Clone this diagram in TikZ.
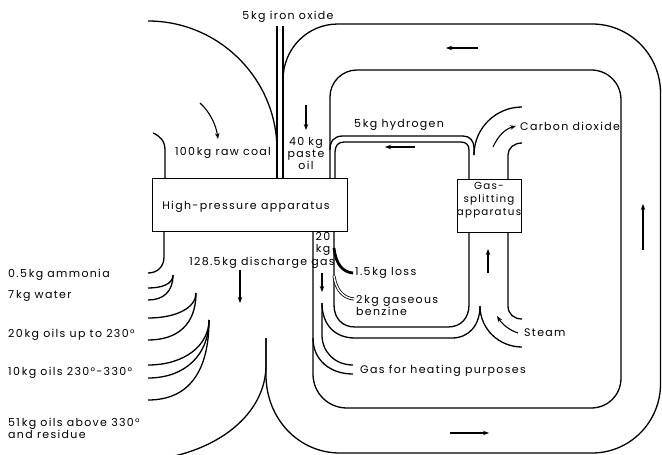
\documentclass[tikz,border=0pt]{standalone}
\usepackage{fontspec}
\setmainfont{Poppins}[LetterSpace=12]
\usetikzlibrary{arrows.meta}
\begin{document}
\begin{tikzpicture}[x=1pt,y=-1pt,
  flow/.style={line width=1.3pt},
  arr/.style={line width=1.1pt,-{Stealth[length=6pt,width=4.5pt]}},
  lbl/.style={inner sep=0pt,font=\fontsize{11}{12}\selectfont},
  boxst/.style={draw,line width=1.3pt,inner sep=0pt,anchor=north west}]
\useasboundingbox (0,0) rectangle (662,455);
% boxes
\node[boxst,minimum width=195pt,minimum height=53pt] (hp) at (152,178) {};
\node[boxst,minimum width=64pt,minimum height=53pt] (gs) at (457,179) {};
% iron oxide pipe
\draw[flow] (277,26) -- (277,178);
\draw[flow] (283,26) -- (283,178);
% raw coal
\draw[flow] (148,21) .. controls (219,21) and (277,79) .. (277,150);
\draw[flow] (153,133) .. controls (160,136) and (165,141) .. (165,150) -- (165,178);
% outer paste-oil loop
\draw[flow] (266,338) -- (266,375) .. controls (266,418) and (298,453) .. (340,453) -- (592,453)
  .. controls (630,453) and (660.5,422) .. (660.5,384) -- (660.5,93)
  .. controls (660.5,55) and (630,24) .. (592,24) -- (338,24)
  .. controls (307,24) and (283,49) .. (283,80);
% inner loop
\draw[flow] (330,178) -- (330,97) .. controls (330,82) and (342,70) .. (357,70) -- (591,70)
  .. controls (608,70) and (621,83) .. (621,100) -- (621,378)
  .. controls (621,395) and (608,408) .. (591,408) -- (347,408)
  .. controls (328,408) and (313,393) .. (313,374) -- (313,231);
% hydrogen pipe
\draw[flow] (330,150) .. controls (330,141) and (334,136) .. (343,136) -- (463,136)
  .. controls (470,136) and (474,141) .. (474,148) -- (474,155);
\draw[flow] (335,178) -- (335,152) .. controls (335,146) and (338,142) .. (344,142) -- (461,142)
  .. controls (466,142) and (469,145) .. (469,150) -- (469,179);
% carbon dioxide
\draw[flow] (474,155) .. controls (474,128) and (496,107) .. (522,107);
\draw[flow] (508,179) -- (508,155) .. controls (508,148) and (514,143) .. (522,143);
% discharge branches on the left
\draw[flow] (164,231) -- (164,257) .. controls (164,267) and (157,273) .. (148,273);
\draw[flow] (173,275) .. controls (173,284) and (162,288) .. (148,288);
\draw[flow] (173,275) .. controls (173,292) and (163,300) .. (148,300);
\draw[flow] (196,293) .. controls (196,308) and (176,318) .. (148,318);
\draw[flow] (196,293) .. controls (196,325) and (177,340) .. (148,340);
\draw[flow] (209,320) .. controls (209,345) and (185,365) .. (148,365);
\draw[flow] (209,320) .. controls (209,355) and (185,378) .. (148,378);
\draw[flow] (209,320) .. controls (209,370) and (190,400) .. (148,400);
\draw[flow] (266,338) -- (266,365) .. controls (266,410) and (225,447) .. (165,458);
% gas stream
\draw[flow] (334,231) -- (334,305) .. controls (334,318) and (342,327) .. (355,327) -- (448,327)
  .. controls (461,327) and (469,318) .. (469,305) -- (469,232);
\draw[flow] (322,303) .. controls (322,325) and (335,338) .. (355,338) -- (452,338)
  .. controls (469,338) and (480,325) .. (480,306);
\draw[flow] (322,303) -- (322,335) .. controls (322,352) and (335,365) .. (353,365);
\draw[flow] (313,338) .. controls (313,360) and (330,374) .. (353,374);
\draw[line width=2.8pt] (334,248) .. controls (336,265) and (343,272) .. (353,273);
\draw[double,double distance=1.4pt,line width=0.8pt] (334,276) .. controls (336,290) and (343,298) .. (354,299);
% steam
\draw[flow] (480,306) .. controls (480,329) and (499,347) .. (522,347);
\draw[flow] (508,232) -- (508,306) .. controls (508,314) and (514,319) .. (522,319);
% arrows
\draw[arr] (200,103) .. controls (210,112) and (216,125) .. (218,139);
\draw[arr] (306,105) -- (306,130);
\draw[arr] (415,147) -- (385,147);
\draw[arr] (478,48) -- (446,48);
\draw[arr] (643,250) -- (643,204);
\draw[arr] (450,433) -- (489,433);
\draw[arr] (493,147) .. controls (498,136) and (505,129) .. (516,126);
\draw[arr] (488,273) -- (488,249);
\draw[arr] (518,333) .. controls (509,330) and (502,324) .. (497,316);
\draw[arr] (240,270) -- (240,303);
\draw[arr] (322,273) -- (322,292);
% labels
\node[lbl] (tiron) at (288,17) {5\,kg iron oxide};
\node[lbl] (tcoal) at (223,153) {100\,kg raw coal};
\node[lbl,align=center] (tpaste) at (306,153) {40 kg\\paste\\oil};
\node[lbl] (thp) at (246,207) {High-pressure apparatus};
\node[lbl] (th2) at (399,125) {5\,kg hydrogen};
\node[lbl,anchor=west] (tco2) at (520,126) {Carbon dioxide};
\node[lbl,align=center,font=\fontsize{10.3}{13}\selectfont] (tgs) at (489,200) {Gas-\\splitting\\apparatus};
\node[lbl,align=center] (t20) at (323,244) {20\\kg};
\node[lbl] (tdis) at (262,263) {128.5\,kg discharge gas};
\node[lbl,anchor=west] (tloss) at (355,273) {1.5\,kg loss};
\node[lbl,anchor=west,align=left] (tbenz) at (356,305) {2\,kg gaseous\\benzine};
\node[lbl,anchor=west] (tsteam) at (524,333) {Steam};
\node[lbl,anchor=west] (theat) at (360,371) {Gas for heating purposes};
\node[lbl,anchor=west] (tamm) at (8,275) {0.5\,kg ammonia};
\node[lbl,anchor=west] (twat) at (8,296) {7\,kg water};
\node[lbl,anchor=west] (to20) at (8,335) {20\,kg oils up to 230°};
\node[lbl,anchor=west] (to10) at (8,373) {10\,kg oils 230°-330°};
\node[lbl,anchor=west,align=left] (to51) at (8,428) {51\,kg oils above 330°\\and residue};
\end{tikzpicture}
\end{document}
